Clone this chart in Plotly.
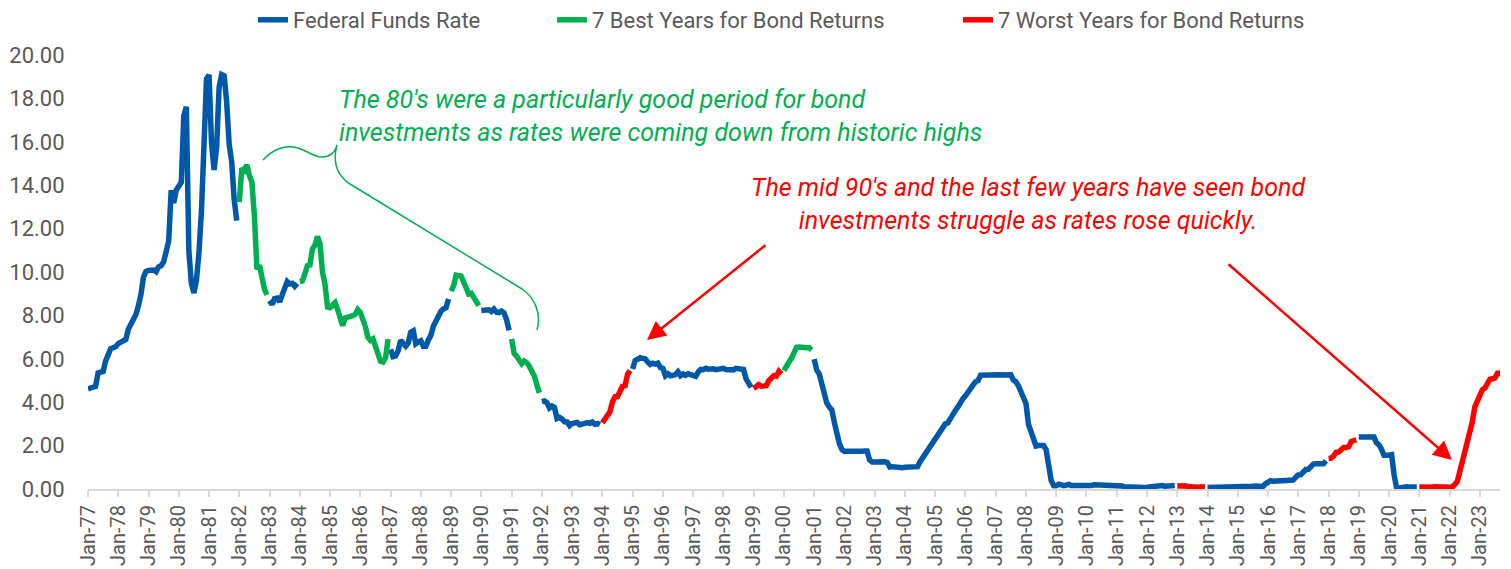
import plotly.graph_objects as go

# ---------------- data ----------------
month_names = ["Jan", "Feb", "Mar", "Apr", "May", "Jun",
               "Jul", "Aug", "Sep", "Oct", "Nov", "Dec"]
first_year = 1977

# Effective Federal Funds Rate, monthly, Jan-1977 .. Sep-2023 (%)
fed_funds_rate = [
    4.61, 4.68, 4.69, 4.73, 5.35, 5.39, 5.42, 5.90, 6.14, 6.47, 6.51, 6.56,   # 1977
    6.70, 6.78, 6.79, 6.89, 7.36, 7.60, 7.81, 8.04, 8.45, 8.96, 9.76, 10.03,  # 1978
    10.07, 10.06, 10.09, 10.01, 10.24, 10.29, 10.47, 10.94, 11.43, 13.77, 13.18, 13.78,  # 1979
    14.00, 14.13, 17.19, 17.61, 10.98, 9.47, 9.03, 9.61, 10.87, 12.81, 15.85, 18.90,   # 1980
    19.08, 15.93, 14.70, 15.72, 18.52, 19.10, 19.04, 17.82, 15.87, 15.08, 13.31, 12.37,  # 1981
    13.22, 14.78, 14.68, 14.94, 14.45, 14.15, 12.59, 10.12, 10.31, 9.71, 9.20, 8.95,   # 1982
    8.68, 8.51, 8.77, 8.80, 8.63, 8.98, 9.37, 9.56, 9.45, 9.48, 9.34, 9.47,   # 1983
    9.56, 9.59, 9.91, 10.29, 10.32, 11.06, 11.23, 11.64, 11.30, 9.99, 9.43, 8.38,  # 1984
    8.35, 8.50, 8.58, 8.27, 7.97, 7.53, 7.88, 7.90, 7.92, 7.99, 8.05, 8.27,   # 1985
    8.14, 7.86, 7.48, 6.99, 6.85, 6.92, 6.56, 6.17, 5.89, 5.85, 6.04, 6.91,   # 1986
    6.43, 6.10, 6.13, 6.37, 6.85, 6.73, 6.58, 6.73, 7.22, 7.29, 6.69, 6.77,   # 1987
    6.83, 6.58, 6.58, 6.87, 7.09, 7.51, 7.75, 8.01, 8.19, 8.30, 8.35, 8.76,   # 1988
    9.12, 9.36, 9.85, 9.84, 9.81, 9.53, 9.24, 8.99, 9.02, 8.84, 8.55, 8.45,   # 1989
    8.23, 8.24, 8.28, 8.26, 8.18, 8.29, 8.15, 8.13, 8.20, 8.11, 7.81, 7.31,   # 1990
    6.91, 6.25, 6.12, 5.91, 5.78, 5.90, 5.82, 5.66, 5.45, 5.21, 4.81, 4.43,   # 1991
    4.03, 4.06, 3.98, 3.73, 3.82, 3.76, 3.25, 3.30, 3.22, 3.10, 3.09, 2.92,   # 1992
    3.02, 3.03, 3.07, 2.96, 3.00, 3.04, 3.06, 3.03, 3.09, 2.99, 3.02, 2.96,   # 1993
    3.05, 3.25, 3.34, 3.56, 4.01, 4.25, 4.26, 4.47, 4.73, 4.76, 5.29, 5.45,   # 1994
    5.53, 5.92, 5.98, 6.05, 6.01, 6.00, 5.85, 5.74, 5.80, 5.76, 5.80, 5.60,   # 1995
    5.56, 5.22, 5.31, 5.22, 5.24, 5.27, 5.40, 5.22, 5.30, 5.24, 5.31, 5.29,   # 1996
    5.25, 5.19, 5.39, 5.51, 5.50, 5.56, 5.52, 5.54, 5.54, 5.50, 5.52, 5.50,   # 1997
    5.56, 5.51, 5.49, 5.45, 5.49, 5.56, 5.54, 5.55, 5.51, 5.07, 4.83, 4.68,   # 1998
    4.63, 4.76, 4.81, 4.74, 4.74, 4.76, 4.99, 5.07, 5.22, 5.20, 5.42, 5.30,   # 1999
    5.45, 5.73, 5.85, 6.02, 6.27, 6.53, 6.54, 6.50, 6.52, 6.51, 6.51, 6.40,   # 2000
    5.98, 5.49, 5.31, 4.80, 4.21, 3.97, 3.77, 3.65, 3.07, 2.49, 2.09, 1.82,   # 2001
    1.73, 1.74, 1.73, 1.75, 1.75, 1.75, 1.73, 1.74, 1.75, 1.75, 1.34, 1.24,   # 2002
    1.24, 1.26, 1.25, 1.26, 1.26, 1.22, 1.01, 1.03, 1.01, 1.01, 1.00, 0.98,   # 2003
    1.00, 1.01, 1.00, 1.00, 1.00, 1.03, 1.26, 1.43, 1.61, 1.76, 1.93, 2.16,   # 2004
    2.28, 2.50, 2.63, 2.79, 3.00, 3.04, 3.26, 3.50, 3.62, 3.78, 4.00, 4.16,   # 2005
    4.29, 4.49, 4.59, 4.79, 4.94, 4.99, 5.24, 5.25, 5.25, 5.25, 5.25, 5.24,   # 2006
    5.25, 5.26, 5.26, 5.25, 5.25, 5.25, 5.26, 5.02, 4.94, 4.76, 4.49, 4.24,   # 2007
    3.94, 2.98, 2.61, 2.28, 1.98, 2.00, 2.01, 2.00, 1.81, 0.97, 0.39, 0.16,   # 2008
    0.15, 0.22, 0.18, 0.15, 0.18, 0.21, 0.16, 0.16, 0.15, 0.12, 0.12, 0.12,   # 2009
    0.11, 0.13, 0.16, 0.20, 0.20, 0.18, 0.18, 0.19, 0.19, 0.19, 0.19, 0.18,   # 2010
    0.17, 0.16, 0.14, 0.10, 0.09, 0.09, 0.07, 0.10, 0.08, 0.07, 0.08, 0.07,   # 2011
    0.08, 0.10, 0.13, 0.14, 0.16, 0.16, 0.16, 0.13, 0.14, 0.16, 0.16, 0.16,   # 2012
    0.14, 0.15, 0.14, 0.15, 0.11, 0.09, 0.09, 0.08, 0.08, 0.09, 0.08, 0.09,   # 2013
    0.07, 0.07, 0.08, 0.09, 0.09, 0.10, 0.09, 0.09, 0.09, 0.09, 0.09, 0.12,   # 2014
    0.11, 0.11, 0.11, 0.12, 0.12, 0.13, 0.13, 0.14, 0.14, 0.12, 0.12, 0.24,   # 2015
    0.34, 0.38, 0.36, 0.37, 0.37, 0.38, 0.39, 0.40, 0.40, 0.40, 0.41, 0.54,   # 2016
    0.65, 0.66, 0.79, 0.90, 0.91, 1.04, 1.15, 1.16, 1.15, 1.15, 1.16, 1.30,   # 2017
    1.41, 1.42, 1.51, 1.69, 1.70, 1.82, 1.91, 1.91, 1.95, 2.19, 2.20, 2.27,   # 2018
    2.40, 2.40, 2.41, 2.42, 2.39, 2.38, 2.40, 2.13, 2.04, 1.83, 1.55, 1.55,   # 2019
    1.55, 1.58, 0.65, 0.05, 0.05, 0.08, 0.09, 0.10, 0.09, 0.09, 0.09, 0.09,   # 2020
    0.09, 0.08, 0.07, 0.07, 0.06, 0.08, 0.10, 0.09, 0.08, 0.08, 0.08, 0.08,   # 2021
    0.08, 0.08, 0.20, 0.33, 0.77, 1.21, 1.68, 2.33, 2.56, 3.08, 3.78, 4.10,   # 2022
    4.33, 4.57, 4.65, 4.83, 5.06, 5.08, 5.12, 5.33, 5.33,                     # 2023
]

best_years = [1982, 1984, 1985, 1986, 1989, 1991, 2000]
worst_years = [1994, 1999, 2013, 2018, 2021, 2022, 2023]

series_names = ["Federal Funds Rate", "7 Best Years for Bond Returns",
                "7 Worst Years for Bond Returns"]
series_colors = ["#0059A8", "#00B050", "#FF0000"]

green_note = ("The 80's were a particularly good period for bond<br>"
              "investments as rates were coming down from historic highs")
red_note = ("The mid 90's and the last few years have seen bond<br>"
            "investments struggle as rates rose quickly.")

# ---------------- derived ----------------
n = len(fed_funds_rate)
idx = list(range(n))
year_of = [first_year + i // 12 for i in idx]
month_labels = [f"{month_names[i % 12]}-{str(year_of[i])[2:]}" for i in idx]

blue_y = [v if (y not in best_years and y not in worst_years) else None
          for v, y in zip(fed_funds_rate, year_of)]
green_y = [v if y in best_years else None for v, y in zip(fed_funds_rate, year_of)]
red_y = [v if y in worst_years else None for v, y in zip(fed_funds_rate, year_of)]

jan_idx = [i for i in idx if i % 12 == 0]
jan_text = [month_labels[i] for i in jan_idx]

# ---------------- layout geometry ----------------
# the page body adds an 8px margin, so the figure is sized to fit the window
OFF = 8
W, H = 1511 - OFF, 569 - OFF
PL, PR, PT, PB = 88, 1500, 55, 489          # plot area in screen pixels
ML, MR, MT, MB = PL - OFF, W - (PR - OFF), PT - OFF, H - (PB - OFF)
PW, PH = PR - PL, PB - PT

def px(x):  # screen x -> paper
    return (x - PL) / PW

def py(y):  # screen y -> paper
    return (PB - y) / PH

def cx(x):  # screen x -> container
    return (x - OFF) / W

def cy(y):  # screen y -> container
    return 1 - (y - OFF) / H

FONT = "Roboto"
GREY = "#595959"

fig = go.Figure()
for yv, name, col, lg in zip([blue_y, green_y, red_y], series_names,
                             series_colors, ["legend", "legend2", "legend3"]):
    fig.add_trace(go.Scatter(
        x=idx, y=yv, mode="lines", name=name, legend=lg,
        line=dict(color=col, width=5.5), connectgaps=False,
        customdata=month_labels, hovertemplate="%{customdata}: %{y:.2f}<extra></extra>",
    ))

legend_common = dict(orientation="h", xref="container", yref="container",
                     xanchor="left", yanchor="middle", y=cy(20),
                     bgcolor="rgba(0,0,0,0)",
                     font=dict(family=FONT, size=22, color=GREY))
fig.update_layout(
    legend=dict(legend_common, x=cx(295 - 42)),
    legend2=dict(legend_common, x=cx(594 - 42)),
    legend3=dict(legend_common, x=cx(1000 - 42)),
)

# curly brace (green)
def pt(x, y):
    return f"{px(x):.5f},{py(y):.5f}"

brace = (f"M {pt(263,160)} C {pt(272,150)} {pt(285,144)} {pt(298,148)} "
         f"C {pt(310,152)} {pt(318,160)} {pt(328,156)} "
         f"C {pt(333,154)} {pt(336,150)} {pt(337,145)} "
         f"C {pt(333,160)} {pt(335,174)} {pt(350,184)} "
         f"L {pt(522,289)} C {pt(534,297)} {pt(542,313)} {pt(537,330)}")
fig.add_shape(type="path", path=brace, xref="paper", yref="paper",
              line=dict(color="#00B050", width=1.5))

fig.add_annotation(xref="paper", yref="paper", x=px(337), y=py(116),
                   xanchor="left", yanchor="middle", align="left", showarrow=False,
                   text=f"<i>{green_note}</i>",
                   font=dict(family=FONT, size=25, color="#00B050"))
fig.add_annotation(xref="paper", yref="paper", x=px(1028), y=py(204),
                   xanchor="center", yanchor="middle", align="center", showarrow=False,
                   text=f"<i>{red_note}</i>",
                   font=dict(family=FONT, size=25, color="#FF0000"))

# arrows
for (tx, ty), (hx, hy) in [((767, 244), (647, 340)), ((1227, 263), (1452, 460))]:
    fig.add_annotation(xref="paper", yref="paper", x=px(hx), y=py(hy),
                       ax=tx - hx, ay=ty - hy, axref="pixel", ayref="pixel",
                       text="", showarrow=True, arrowhead=2, arrowsize=1.5,
                       arrowwidth=2.5, arrowcolor="#FF0000", standoff=0)

fig.update_layout(
    width=W, height=H, template="none",
    margin=dict(l=ML, r=MR, t=MT, b=MB, autoexpand=False),
    paper_bgcolor="white", plot_bgcolor="white",
    font=dict(family=FONT, color=GREY),
    xaxis=dict(range=[0, n - 1], tickmode="array", tickvals=jan_idx, ticktext=jan_text,
               tickangle=-90, ticks="outside", ticklen=6, tickcolor="#D9D9D9", tickwidth=1.5,
               showline=True, linecolor="#D9D9D9", linewidth=2, showgrid=False,
               zeroline=False, automargin=False,
               tickfont=dict(family=FONT, size=20, color=GREY)),
    yaxis=dict(range=[0, 20], dtick=2, tickformat=".2f", showgrid=False, zeroline=False,
               showline=False, ticks="outside", ticklen=18, tickcolor="rgba(0,0,0,0)",
               automargin=False, tickfont=dict(family=FONT, size=22, color=GREY)),
    showlegend=True,
)

fig.write_html("out.html")
